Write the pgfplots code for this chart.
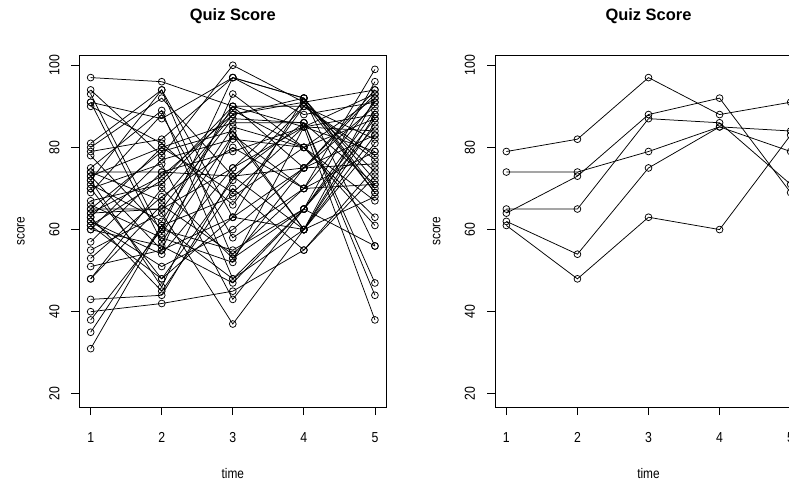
\documentclass[border=0pt]{standalone}
\usepackage{pgfplots}
\pgfplotsset{compat=1.18}
\usepackage{fontspec}
\setmainfont{Liberation Sans}[FakeStretch=0.85]
\newfontfamily\titlefont{Liberation Sans}

\newcommand\subj[5]{\addplot coordinates {(1,#1) (2,#2) (3,#3) (4,#4) (5,#5)};}

\pgfplotsset{
  quiz/.style={
    scale only axis, width=307bp, height=352bp,
    xmin=0.84, xmax=5.16, ymin=16.8, ymax=102.5,
    xtick={1,2,3,4,5}, ytick={20,40,60,80,100},
    tick align=outside, major tick length=8bp,
    xtick pos=bottom, ytick pos=left,
    every tick/.style={black, line width=0.75bp},
    axis line style={black, line width=0.75bp},
    /pgf/number format/assume math mode=true,
    tick label style={font=\fontsize{14.5}{16}\selectfont},
    x tick label style={anchor=base, yshift=-27bp},
    y tick label style={xshift=-17bp, rotate=90, anchor=center},
    title style={at={(axis description cs:0.5,1.094)}, anchor=center, font=\titlefont\bfseries\fontsize{16.5}{18}\selectfont},
    xlabel style={at={(axis description cs:0.5,-0.19)}, anchor=center, font=\fontsize{14}{16}\selectfont},
    ylabel style={at={(axis description cs:-0.19,0.5)}, anchor=center, rotate=0, font=\fontsize{14}{16}\selectfont},
    title={Quiz Score}, xlabel={time}, ylabel={score},
    every axis plot post/.append style={black, solid, line width=0.75bp, mark=o, mark size=3.4bp, mark options={solid, black, line width=0.75bp}},
  }
}

\begin{document}
\begin{tikzpicture}
\begin{axis}[quiz, at={(79.3bp,78bp)}, anchor=south west]
\subj{79}{82}{97}{88}{91}
\subj{74}{74}{79}{85}{84}
\subj{65}{65}{87}{86}{71}
\subj{64}{73}{88}{92}{69}
\subj{62}{54}{75}{85}{79}
\subj{61}{48}{63}{60}{83}
\subj{97}{96}{90}{85}{88}
\subj{94}{78}{100}{91}{94}
\subj{93}{59}{85}{80}{63}
\subj{91}{87}{97}{92}{72}
\subj{91}{57}{83}{70}{99}
\subj{90}{81}{66}{90}{77}
\subj{81}{94}{53}{75}{93}
\subj{80}{92}{73}{86}{47}
\subj{78}{60}{97}{92}{56}
\subj{75}{89}{48}{65}{87}
\subj{74}{67}{88}{91}{74}
\subj{73}{55}{93}{80}{92}
\subj{73}{80}{69}{85}{38}
\subj{72}{46}{83}{60}{86}
\subj{72}{94}{63}{92}{70}
\subj{71}{62}{90}{75}{94}
\subj{70}{76}{43}{65}{89}
\subj{70}{48}{72}{90}{82}
\subj{69}{88}{58}{70}{91}
\subj{67}{71}{89}{80}{61}
\subj{66}{58}{52}{85}{93}
\subj{65}{79}{84}{60}{81}
\subj{64}{65}{75}{91}{69}
\subj{63}{45}{70}{55}{73}
\subj{63}{80}{86}{86}{44}
\subj{62}{51}{60}{75}{83}
\subj{61}{72}{90}{90}{78}
\subj{60}{56}{47}{65}{85}
\subj{60}{77}{82}{80}{67}
\subj{57}{74}{73}{75}{90}
\subj{55}{64}{37}{60}{88}
\subj{53}{68}{80}{70}{79}
\subj{51}{55}{63}{75}{76}
\subj{48}{70}{53}{65}{96}
\subj{48}{66}{54}{70}{71}
\subj{43}{44}{73}{60}{92}
\subj{40}{42}{45}{55}{75}
\subj{38}{60}{55}{65}{56}
\subj{35}{61}{68}{80}{87}
\subj{31}{61}{48}{60}{68}
\end{axis}
\begin{axis}[quiz, at={(495bp,78bp)}, anchor=south west]
\subj{79}{82}{97}{88}{91}
\subj{74}{74}{79}{85}{84}
\subj{65}{65}{87}{86}{71}
\subj{64}{73}{88}{92}{69}
\subj{62}{54}{75}{85}{79}
\subj{61}{48}{63}{60}{83}
\end{axis}
\pgfresetboundingbox
\path[use as bounding box] (0,0) rectangle (789bp,485bp);
\end{tikzpicture}
\end{document}
